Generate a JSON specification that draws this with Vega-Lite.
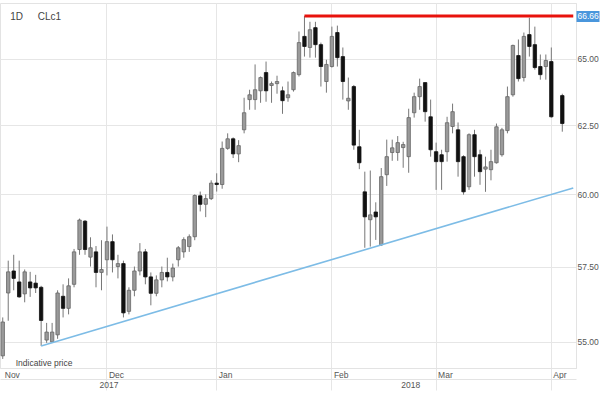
{
  "$schema": "https://vega.github.io/schema/vega-lite/v6.json",
  "width": 576,
  "height": 365,
  "autosize": {"type": "none"},
  "padding": {"left": 0, "top": 3, "right": 32, "bottom": 28},
  "background": "white",
  "config": {
    "view": {"stroke": "#e3e3e3"},
    "font": "Liberation Sans",
    "axis": {"labelFont": "Liberation Sans", "labelFontSize": 8.5, "labelColor": "#555", "title": null}
  },
  "datasets": {
    "candles": [
      {"d": "2017-11-03", "o": 54.55, "h": 55.8, "l": 54.45, "c": 55.65},
      {"d": "2017-11-06", "o": 56.61, "h": 57.7, "l": 55.69, "c": 57.32},
      {"d": "2017-11-07", "o": 57.35, "h": 57.9, "l": 56.7, "c": 57.1},
      {"d": "2017-11-08", "o": 56.98, "h": 57.7, "l": 56.45, "c": 56.48},
      {"d": "2017-11-09", "o": 56.58, "h": 57.4, "l": 56.3, "c": 57.32},
      {"d": "2017-11-10", "o": 56.98, "h": 57.32, "l": 56.48, "c": 56.78},
      {"d": "2017-11-13", "o": 56.94, "h": 57.22, "l": 56.61, "c": 56.78},
      {"d": "2017-11-14", "o": 56.8, "h": 56.85, "l": 54.87, "c": 55.7},
      {"d": "2017-11-15", "o": 55.06, "h": 55.62, "l": 54.97, "c": 55.32},
      {"d": "2017-11-16", "o": 55.0, "h": 55.62, "l": 54.97, "c": 55.32},
      {"d": "2017-11-17", "o": 55.23, "h": 56.7, "l": 55.1, "c": 56.61},
      {"d": "2017-11-20", "o": 56.5, "h": 56.9, "l": 55.8, "c": 56.1},
      {"d": "2017-11-21", "o": 56.1, "h": 57.1, "l": 55.9, "c": 56.85},
      {"d": "2017-11-22", "o": 56.9, "h": 58.1, "l": 56.8, "c": 58.0},
      {"d": "2017-11-24", "o": 58.08, "h": 59.15, "l": 57.9, "c": 59.1},
      {"d": "2017-11-27", "o": 59.06, "h": 59.1, "l": 57.9, "c": 58.08},
      {"d": "2017-11-28", "o": 57.82, "h": 58.5, "l": 57.5, "c": 58.14},
      {"d": "2017-11-29", "o": 58.0, "h": 58.2, "l": 56.8, "c": 57.3},
      {"d": "2017-11-30", "o": 57.3, "h": 58.4, "l": 56.7, "c": 57.4},
      {"d": "2017-12-01", "o": 57.73, "h": 58.87, "l": 57.2, "c": 58.35},
      {"d": "2017-12-04", "o": 58.35, "h": 58.6, "l": 57.3, "c": 57.73},
      {"d": "2017-12-05", "o": 57.5, "h": 57.9, "l": 57.1, "c": 57.6},
      {"d": "2017-12-06", "o": 57.6, "h": 57.7, "l": 55.8, "c": 55.95},
      {"d": "2017-12-07", "o": 56.0, "h": 56.8, "l": 55.9, "c": 56.7},
      {"d": "2017-12-08", "o": 56.7, "h": 57.5, "l": 56.5, "c": 57.35},
      {"d": "2017-12-11", "o": 57.35, "h": 58.3, "l": 57.2, "c": 58.0},
      {"d": "2017-12-12", "o": 58.0, "h": 58.1, "l": 56.9, "c": 57.15},
      {"d": "2017-12-13", "o": 57.15, "h": 57.3, "l": 56.2, "c": 56.6},
      {"d": "2017-12-14", "o": 56.6, "h": 57.2, "l": 56.5, "c": 57.05},
      {"d": "2017-12-15", "o": 57.05, "h": 57.5, "l": 56.8, "c": 57.3},
      {"d": "2017-12-18", "o": 57.3, "h": 57.8, "l": 57.0, "c": 57.15},
      {"d": "2017-12-19", "o": 57.15, "h": 57.6, "l": 57.0, "c": 57.45},
      {"d": "2017-12-20", "o": 57.73, "h": 58.2, "l": 57.5, "c": 58.14},
      {"d": "2017-12-21", "o": 58.0, "h": 58.5, "l": 57.8, "c": 58.42},
      {"d": "2017-12-22", "o": 58.18, "h": 58.6, "l": 58.0, "c": 58.52},
      {"d": "2017-12-26", "o": 58.52, "h": 60.0, "l": 58.4, "c": 59.96},
      {"d": "2017-12-27", "o": 59.95, "h": 60.1, "l": 59.4, "c": 59.65},
      {"d": "2017-12-28", "o": 59.65, "h": 60.0, "l": 59.2, "c": 59.85},
      {"d": "2017-12-29", "o": 59.85, "h": 60.5, "l": 59.8, "c": 60.4},
      {"d": "2018-01-02", "o": 60.4, "h": 60.75, "l": 60.1, "c": 60.35},
      {"d": "2018-01-03", "o": 60.35, "h": 61.9, "l": 60.2, "c": 61.65},
      {"d": "2018-01-04", "o": 61.65, "h": 62.2, "l": 61.6, "c": 62.0},
      {"d": "2018-01-05", "o": 62.0, "h": 62.05, "l": 61.3, "c": 61.45},
      {"d": "2018-01-08", "o": 61.45, "h": 61.95, "l": 61.15, "c": 61.75},
      {"d": "2018-01-09", "o": 62.33, "h": 63.52, "l": 62.2, "c": 62.96},
      {"d": "2018-01-10", "o": 63.45, "h": 63.82, "l": 63.07, "c": 63.63},
      {"d": "2018-01-11", "o": 63.45, "h": 64.78, "l": 63.07, "c": 63.82},
      {"d": "2018-01-12", "o": 63.78, "h": 64.32, "l": 63.33, "c": 64.28},
      {"d": "2018-01-16", "o": 64.47, "h": 64.89, "l": 63.37, "c": 63.78},
      {"d": "2018-01-17", "o": 63.98, "h": 64.13, "l": 63.33, "c": 64.05},
      {"d": "2018-01-18", "o": 64.05, "h": 64.35, "l": 63.67, "c": 64.13},
      {"d": "2018-01-19", "o": 63.78, "h": 63.94, "l": 62.92, "c": 63.41},
      {"d": "2018-01-22", "o": 63.52, "h": 64.13, "l": 63.37, "c": 63.63},
      {"d": "2018-01-23", "o": 63.82, "h": 64.51, "l": 63.75, "c": 64.47},
      {"d": "2018-01-24", "o": 64.39, "h": 66.05, "l": 64.32, "c": 65.62},
      {"d": "2018-01-25", "o": 65.86, "h": 66.66, "l": 65.08, "c": 65.47},
      {"d": "2018-01-26", "o": 65.43, "h": 66.43, "l": 65.04, "c": 66.12},
      {"d": "2018-01-29", "o": 66.2, "h": 66.43, "l": 65.04, "c": 65.54},
      {"d": "2018-01-30", "o": 65.54, "h": 65.62, "l": 63.94, "c": 64.7},
      {"d": "2018-01-31", "o": 64.13, "h": 64.96, "l": 63.71, "c": 64.78},
      {"d": "2018-02-01", "o": 64.7, "h": 66.24, "l": 64.66, "c": 65.86},
      {"d": "2018-02-02", "o": 66.01, "h": 66.28, "l": 64.7, "c": 65.04},
      {"d": "2018-02-05", "o": 65.08, "h": 65.43, "l": 63.45, "c": 64.13},
      {"d": "2018-02-06", "o": 63.4, "h": 64.28, "l": 63.07, "c": 63.5},
      {"d": "2018-02-07", "o": 63.94, "h": 64.0, "l": 61.6, "c": 61.77},
      {"d": "2018-02-08", "o": 61.71, "h": 62.33, "l": 60.9, "c": 61.13},
      {"d": "2018-02-09", "o": 60.09, "h": 60.81, "l": 58.14, "c": 59.21},
      {"d": "2018-02-12", "o": 59.11, "h": 60.85, "l": 58.18, "c": 59.28},
      {"d": "2018-02-13", "o": 59.38, "h": 59.72, "l": 58.41, "c": 59.21},
      {"d": "2018-02-14", "o": 58.24, "h": 60.94, "l": 58.2, "c": 60.63},
      {"d": "2018-02-15", "o": 60.7, "h": 61.97, "l": 60.3, "c": 61.35},
      {"d": "2018-02-16", "o": 61.5, "h": 61.97, "l": 61.2, "c": 61.67},
      {"d": "2018-02-20", "o": 61.5, "h": 62.1, "l": 61.2, "c": 61.86},
      {"d": "2018-02-21", "o": 61.68, "h": 61.89, "l": 60.95, "c": 61.79},
      {"d": "2018-02-22", "o": 61.35, "h": 63.11, "l": 60.77, "c": 62.78},
      {"d": "2018-02-23", "o": 62.96, "h": 63.71, "l": 62.78, "c": 63.56},
      {"d": "2018-02-26", "o": 63.56, "h": 64.24, "l": 63.07, "c": 63.94},
      {"d": "2018-02-27", "o": 64.09, "h": 64.09, "l": 62.63, "c": 63.0},
      {"d": "2018-02-28", "o": 62.81, "h": 63.45, "l": 61.35, "c": 61.6},
      {"d": "2018-03-01", "o": 61.53, "h": 61.86, "l": 60.16, "c": 61.17},
      {"d": "2018-03-02", "o": 61.42, "h": 61.6, "l": 60.16, "c": 61.17},
      {"d": "2018-03-05", "o": 61.53, "h": 62.81, "l": 61.17, "c": 62.59},
      {"d": "2018-03-06", "o": 62.45, "h": 63.3, "l": 62.2, "c": 63.0},
      {"d": "2018-03-07", "o": 62.33, "h": 62.6, "l": 60.63, "c": 61.17},
      {"d": "2018-03-08", "o": 61.35, "h": 61.4, "l": 59.99, "c": 60.09},
      {"d": "2018-03-09", "o": 60.27, "h": 62.2, "l": 60.16, "c": 62.15},
      {"d": "2018-03-12", "o": 62.15, "h": 62.33, "l": 60.63, "c": 61.35},
      {"d": "2018-03-13", "o": 61.42, "h": 61.6, "l": 60.34, "c": 60.81},
      {"d": "2018-03-14", "o": 60.9, "h": 61.35, "l": 60.09, "c": 60.98},
      {"d": "2018-03-15", "o": 60.88, "h": 61.6, "l": 60.5, "c": 61.17},
      {"d": "2018-03-16", "o": 61.13, "h": 62.56, "l": 61.1, "c": 62.44},
      {"d": "2018-03-19", "o": 61.42, "h": 62.4, "l": 61.35, "c": 62.33},
      {"d": "2018-03-20", "o": 62.3, "h": 63.94, "l": 62.2, "c": 63.56},
      {"d": "2018-03-21", "o": 63.63, "h": 65.54, "l": 63.56, "c": 65.51},
      {"d": "2018-03-22", "o": 65.12, "h": 65.74, "l": 64.13, "c": 64.24},
      {"d": "2018-03-23", "o": 64.28, "h": 66.01, "l": 64.13, "c": 65.86},
      {"d": "2018-03-26", "o": 65.93, "h": 66.59, "l": 65.08, "c": 65.47},
      {"d": "2018-03-27", "o": 65.54, "h": 66.24, "l": 64.58, "c": 64.66},
      {"d": "2018-03-28", "o": 64.7, "h": 65.16, "l": 64.2, "c": 64.39},
      {"d": "2018-03-29", "o": 64.7, "h": 65.16, "l": 64.2, "c": 64.93},
      {"d": "2018-04-02", "o": 64.89, "h": 65.43, "l": 62.78, "c": 62.81},
      {"d": "2018-04-04", "o": 63.6, "h": 63.67, "l": 62.26, "c": 62.56}
    ],
    "support": [
      {"d": "2017-11-14", "p": 54.87},
      {"d": "2018-04-06", "p": 60.23}
    ],
    "resistance": [
      {"d": "2018-01-25", "p": 66.66},
      {"d": "2018-04-06", "p": 66.66}
    ],
    "notes": [
      {"d": "2017-11-06", "p": 66.6, "t": "1D"},
      {"d": "2017-11-13", "p": 66.6, "t": "CLc1"},
      {"d": "2017-11-07", "p": 54.33, "t": "Indicative price"}
    ]
  },
  "resolve": {"axis": {"x": "independent", "y": "independent"}},
  "layer": [
    {
      "data": {"name": "candles"},
      "mark": {"type": "rule", "strokeWidth": 1},
      "encoding": {
        "x": {
          "field": "d", "type": "ordinal",
          "scale": {
            "domain": ["2017-11-03","2017-11-06","2017-11-07","2017-11-08","2017-11-09","2017-11-10","2017-11-13","2017-11-14","2017-11-15","2017-11-16","2017-11-17","2017-11-20","2017-11-21","2017-11-22","2017-11-24","2017-11-27","2017-11-28","2017-11-29","2017-11-30",
              "2017-12-01","2017-12-04","2017-12-05","2017-12-06","2017-12-07","2017-12-08","2017-12-11","2017-12-12","2017-12-13","2017-12-14","2017-12-15","2017-12-18","2017-12-19","2017-12-20","2017-12-21","2017-12-22","2017-12-26","2017-12-27","2017-12-28","2017-12-29",
              "2018-01-02","2018-01-03","2018-01-04","2018-01-05","2018-01-08","2018-01-09","2018-01-10","2018-01-11","2018-01-12","2018-01-16","2018-01-17","2018-01-18","2018-01-19","2018-01-22","2018-01-23","2018-01-24","2018-01-25","2018-01-26","2018-01-29","2018-01-30","2018-01-31",
              "2018-02-01","2018-02-02","2018-02-05","2018-02-06","2018-02-07","2018-02-08","2018-02-09","2018-02-12","2018-02-13","2018-02-14","2018-02-15","2018-02-16","2018-02-20","2018-02-21","2018-02-22","2018-02-23","2018-02-26","2018-02-27","2018-02-28",
              "2018-03-01","2018-03-02","2018-03-05","2018-03-06","2018-03-07","2018-03-08","2018-03-09","2018-03-12","2018-03-13","2018-03-14","2018-03-15","2018-03-16","2018-03-19","2018-03-20","2018-03-21","2018-03-22","2018-03-23","2018-03-26","2018-03-27","2018-03-28","2018-03-29",
              "2018-04-02","2018-04-03","2018-04-04","2018-04-05","2018-04-06"],
            "paddingInner": 0, "paddingOuter": 0
          },
          "axis": {
            "orient": "bottom",
            "values": ["2017-11-03","2017-12-01","2018-01-02","2018-02-01","2018-03-01","2018-04-02"],
            "labelExpr": "utcFormat(toDate(datum.value), '%b')",
            "labelAngle": 0,
            "labelAlign": "left",
            "labelBaseline": "middle",
            "labelOffset": 2,
            "labelPadding": -16,
            "tickSize": 22,
            "tickColor": {"condition": {"test": "datum.value === '2017-11-03'", "value": "transparent"}, "value": "#e6e6e6"},
            "grid": true,
            "gridColor": {"condition": {"test": "datum.value === '2017-11-03'", "value": "transparent"}, "value": "#e6e6e6"},
            "domainColor": "#e3e3e3"
          }
        },
        "y": {
          "field": "l", "type": "quantitative",
          "scale": {"type": "log", "domain": [54.16, 67.17], "nice": false, "zero": false},
          "axis": {
            "orient": "right",
            "values": [55, 57.5, 60, 62.5, 65],
            "format": ".2f",
            "ticks": false,
            "labelPadding": 1,
            "grid": true,
            "gridColor": "#e6e6e6",
            "domainColor": "#e3e3e3"
          }
        },
        "y2": {"field": "h"},
        "color": {"value": "#777"}
      }
    },
    {
      "data": {"name": "candles"},
      "mark": {"type": "bar", "width": {"band": 0.62}, "strokeWidth": 0.8},
      "encoding": {
        "x": {"field": "d", "type": "ordinal", "axis": null},
        "y": {"field": "o", "type": "quantitative", "axis": null},
        "y2": {"field": "c"},
        "fill": {"condition": {"test": "datum.c < datum.o", "value": "#111"}, "value": "#9a9a9a"},
        "stroke": {"condition": {"test": "datum.c < datum.o", "value": "#111"}, "value": "#666"}
      }
    },
    {
      "data": {"name": "support"},
      "mark": {"type": "line", "color": "#7dbce6", "strokeWidth": 1.6, "clip": true},
      "encoding": {
        "x": {"field": "d", "type": "ordinal", "axis": null},
        "y": {"field": "p", "type": "quantitative", "axis": null}
      }
    },
    {
      "data": {"name": "resistance"},
      "mark": {"type": "line", "color": "#e8120c", "strokeWidth": 3, "clip": true},
      "encoding": {
        "x": {
          "field": "d", "type": "ordinal",
          "axis": {
            "orient": "bottom",
            "values": ["2017-12-01", "2018-02-22"],
            "labelExpr": "slice(datum.value, 0, 4)",
            "labelAngle": 0,
            "labelAlign": "center",
            "labelBaseline": "top",
            "labelOffset": 2,
            "labelPadding": 1,
            "ticks": false,
            "grid": false,
            "offset": 11,
            "domainColor": "#e3e3e3"
          }
        },
        "y": {
          "field": "p", "type": "quantitative",
          "axis": {
            "orient": "right",
            "values": [66.66],
            "format": ".2f",
            "grid": false,
            "domain": false,
            "tickSize": 23,
            "tickWidth": 11,
            "tickColor": "#4a96dc",
            "labelColor": "white",
            "labelPadding": -22
          }
        }
      }
    },
    {
      "data": {"name": "notes"},
      "mark": {"type": "text", "align": "left", "baseline": "middle", "dx": 2, "color": "#444"},
      "encoding": {
        "x": {"field": "d", "type": "ordinal", "axis": null},
        "y": {"field": "p", "type": "quantitative", "axis": null},
        "text": {"field": "t"},
        "size": {"condition": {"test": "datum.t === 'Indicative price'", "value": 8.5}, "value": 10}
      }
    }
  ]
}
